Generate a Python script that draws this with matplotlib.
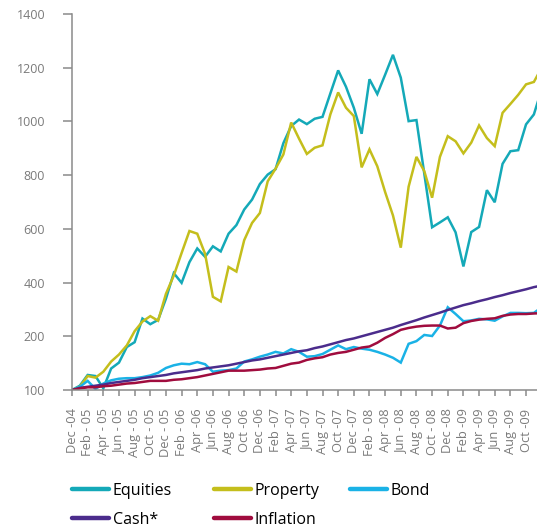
import numpy as np
import matplotlib
matplotlib.use("Agg")
import matplotlib.pyplot as plt

plt.rcParams['font.family'] = ['Open Sans', 'DejaVu Sans']

# ---- data (index values, monthly Dec-04 .. Dec-09) ----
equities = [100, 108, 128, 126, 103, 140, 151, 180, 189, 266, 245, 261, 340, 435, 399, 476,
            527, 496, 535, 516, 582, 614, 672, 709, 767, 802, 822, 919, 983, 1007, 990, 1010,
            1017, 1104, 1190, 1129, 1051, 954, 1157, 1102, 1174, 1248, 1163, 1001, 1005, 806,
            606, 624, 643, 587, 460, 588, 607, 744, 699, 842, 889, 893, 989, 1026, 1120]
property_ = [100, 106, 126, 123, 134, 153, 166, 183, 219, 255, 275, 258, 358, 426, 510, 592,
             582, 507, 347, 330, 458, 441, 558, 622, 659, 777, 824, 877, 996, 936, 879, 902,
             911, 1026, 1108, 1051, 1020, 829, 896, 833, 737, 650, 530, 757, 868, 815,
             716, 868, 945, 926, 881, 921, 985, 938, 908, 1032, 1065, 1099, 1138, 1147, 1200]
bond = [100, 106, 117, 102, 112, 118, 121, 122, 122, 124, 127, 132, 141, 146, 149, 148,
        152, 148, 134, 136, 137, 140, 153, 157, 162, 166, 171, 168, 176, 171, 162, 163,
        167, 175, 183, 176, 180, 177, 175, 171, 166, 160, 151, 186, 191, 205,
        201, 240, 308, 283, 256, 259, 265, 263, 258, 274, 287, 287, 286, 287, 308]
cash = [100, 104, 106, 108, 110, 113, 115, 117, 119, 122, 124, 126, 128, 131, 133, 135,
        137, 140, 142, 144, 146, 149, 152, 155, 157, 160, 163, 166, 169, 172, 174, 178,
        181, 185, 189, 193, 196, 200, 208, 216, 224, 232, 242, 251, 260, 270,
        279, 288, 298, 307, 316, 323, 331, 338, 346, 353, 361, 368, 375, 383, 389]
inflation = [100, 103, 105, 105, 107, 108, 110, 112, 113, 115, 117, 117, 117, 119, 120, 122,
             124, 127, 130, 133, 136, 136, 136, 137, 138, 140, 141, 145, 149, 151, 156, 159,
             161, 166, 169, 171, 175, 179, 181, 188, 197, 208, 224, 231, 236, 239,
             240, 240, 229, 232, 249, 257, 262, 265, 267, 276, 281, 283, 283, 285, 286]

tick_labels = ["Dec -04", "Feb - 05", "Apr - 05", "Jun - 05", "Aug - 05", "Oct - 05",
               "Dec - 05", "Feb - 06", "Apr -06", "Jun -06", "Aug -06", "Oct -06",
               "Dec -06", "Feb -07", "Apr -07", "Jun -07", "Aug -07", "Oct -07",
               "Dec -07", "Feb - 08", "Apr -08", "Jun - 08", "Aug -08", "Oct - 08",
               "Dec -08", "Feb -09", "Apr -09", "Jun -09", "Aug -09", "Oct -09"]
y_ticks = [100, 200, 400, 600, 800, 1000, 1200, 1400]

series_names = ["Equities", "Property", "Bond", "Cash*", "Inflation"]
colors = ["#14a9b8", "#c4be1c", "#1ab2e6", "#4b2c8c", "#a00c3e"]

# ---- figure ----
W, H = 537, 528
fig = plt.figure(figsize=(W / 100, H / 100), dpi=100)
ax = fig.add_axes([72 / W, 1 - 390 / H, 1 - 72 / W, (390 - 14) / H])

def fwd(v):
    v = np.asarray(v, dtype=float)
    return np.where(v < 200, (v - 100) * 2.0, v)

def inv(y):
    y = np.asarray(y, dtype=float)
    return np.where(y < 200, y / 2.0 + 100, y)

ax.set_yscale('function', functions=(fwd, inv))

x = np.arange(len(equities))
lines = []
for vals, name, c in zip([equities, property_, bond, cash, inflation], series_names, colors):
    ln, = ax.plot(x, vals, color=c, lw=1.8, label=name, solid_joinstyle='miter')
    lines.append(ln)

ax.set_xlim(0, 59.4)
ax.set_ylim(100, 1400)
ax.set_yticks(y_ticks)
ax.set_yticklabels([str(v) for v in y_ticks])
ax.set_xticks(np.arange(0, 2 * len(tick_labels), 2))
ax.set_xticklabels(tick_labels, rotation=90)

gray = "#8a8a8a"
for s in ["top", "right"]:
    ax.spines[s].set_visible(False)
for s in ["left", "bottom"]:
    ax.spines[s].set_color(gray)
    ax.spines[s].set_linewidth(1.1)
ax.tick_params(axis='y', direction='out', length=6.3, width=1.1, color=gray,
               labelcolor="#7a7a7a", labelsize=9, pad=13)
ax.tick_params(axis='x', direction='out', length=4.3, width=1.1, color=gray,
               labelcolor="#7a7a7a", labelsize=9.3, pad=9)

# ---- legend in three columns ----
common = dict(frameon=False, fontsize=11.5, handlelength=2.3, handletextpad=0.25,
              labelspacing=0.8, borderpad=0, borderaxespad=0, loc='upper left')
top = 1 - 483 / H
leg1 = fig.legend([lines[0], lines[3]], [series_names[0], series_names[3]],
                  bbox_to_anchor=(72 / W, top), **common)
leg2 = fig.legend([lines[1], lines[4]], [series_names[1], series_names[4]],
                  bbox_to_anchor=(214 / W, top), **common)
leg3 = fig.legend([lines[2]], [series_names[2]],
                  bbox_to_anchor=(350 / W, top), **common)
for lg in (leg1, leg2, leg3):
    for h in lg.legend_handles:
        h.set_linewidth(3.2)
        h.set_solid_capstyle('round')

fig.savefig("out.png", dpi=100)
